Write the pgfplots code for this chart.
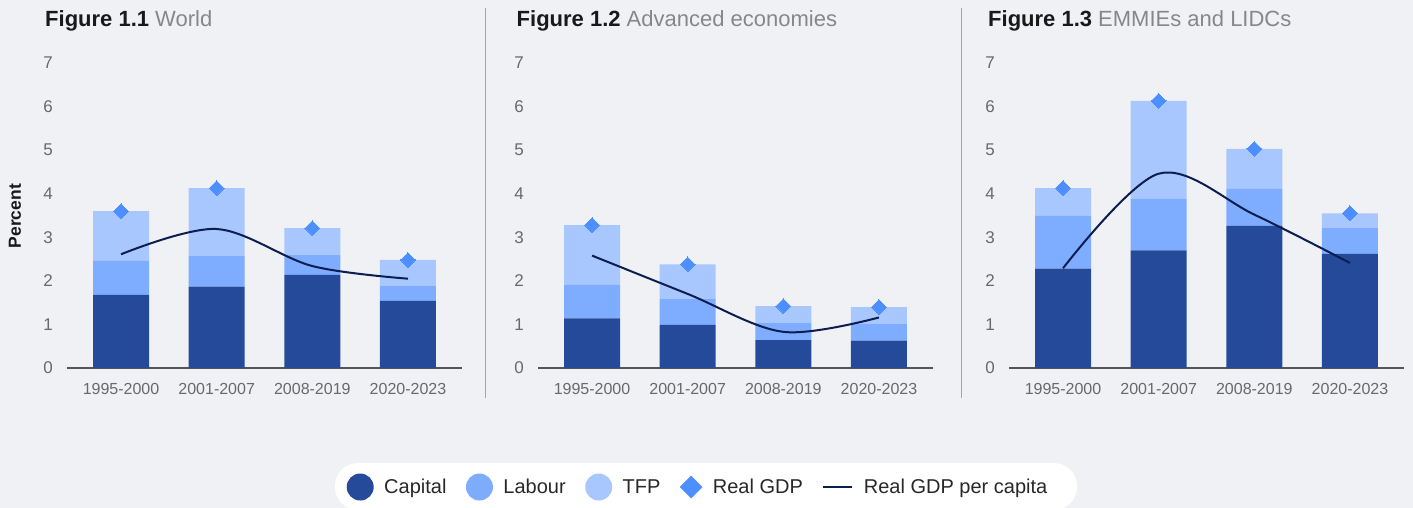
\documentclass[border=0pt]{standalone}
\usepackage{fontspec}
\setmainfont{Liberation Sans}
\usepackage{pgfplots}
\usepackage{pgfplotstable}
\pgfplotsset{compat=1.18}
\definecolor{bgcol}{RGB}{240,241,245}
\definecolor{capcol}{RGB}{37,74,153}
\definecolor{labcol}{RGB}{126,172,255}
\definecolor{tfpcol}{RGB}{168,199,255}
\definecolor{diacol}{RGB}{77,143,255}
\definecolor{pccol}{RGB}{12,30,80}
\definecolor{tickcol}{RGB}{105,105,105}
\definecolor{axcol}{RGB}{85,85,85}
\definecolor{titlegray}{RGB}{135,135,135}
\definecolor{titleblack}{RGB}{25,25,25}
\definecolor{divcol}{RGB}{165,165,165}
\definecolor{legtext}{RGB}{40,40,40}

% columns: x, capital, labour (increment), TFP (increment), real GDP, real GDP per capita
\pgfplotstableread{
x cap lab tfp gdp pc
0 1.68 0.78 1.14 3.60 2.61
1 1.87 0.71 1.55 4.13 3.19
2 2.14 0.45 0.62 3.21 2.34
3 1.54 0.35 0.59 2.48 2.05
}\worldtab
\pgfplotstableread{
x cap lab tfp gdp pc
0 1.14 0.77 1.37 3.28 2.58
1 0.99 0.60 0.79 2.38 1.70
2 0.64 0.40 0.38 1.42 0.83
3 0.63 0.39 0.38 1.40 1.16
}\advtab
\pgfplotstableread{
x cap lab tfp gdp pc
0 2.28 1.21 0.64 4.13 2.29
1 2.70 1.18 2.25 6.13 4.46
2 3.26 0.85 0.92 5.03 3.52
3 2.62 0.60 0.33 3.55 2.41
}\emtab

\pgfplotsset{
  base/.style={
    scale only axis, width=395bp, height=305bp,
    xmin=-0.565, xmax=3.565, ymin=0, ymax=7,
  },
  barpanel/.style={
    base,
    ybar stacked, bar width=56bp,
    axis x line=bottom, axis y line=left,
    x axis line style={-, draw=axcol, line width=1.2bp},
    y axis line style={draw=none},
    major tick length=0pt,
    xtick={0,1,2,3}, xticklabels={1995-2000,2001-2007,2008-2019,2020-2023},
    ytick={0,1,...,7},
    /pgf/number format/assume math mode=true,
    yticklabel style={font=\fontsize{17bp}{20bp}\selectfont, text=tickcol, anchor=east, inner sep=0pt, xshift=-14bp},
    xticklabel style={font=\fontsize{16bp}{19bp}\selectfont, text=tickcol, anchor=north, inner sep=0pt, yshift=-15bp},
  },
  overpanel/.style={base, hide axis, clip=false},
  pcline/.style={pccol, line width=2bp, smooth, tension=0.55},
  gdpmark/.style={only marks, color=diacol, mark=square*, mark size=5.2bp, mark options={rotate=45, fill=diacol, draw=diacol, line width=0pt}},
}

\begin{document}
\begin{tikzpicture}
\path[use as bounding box] (0,0) rectangle (1413bp,-508bp);
\fill[bgcol] (0,0) rectangle (1413bp,-508bp);
\fill[white, rounded corners=23bp] (335bp,-463bp) rectangle (1077bp,-510bp);
\draw[divcol, line width=1bp] (485.5bp,-8bp) -- (485.5bp,-398bp);
\draw[divcol, line width=1bp] (961.5bp,-8bp) -- (961.5bp,-398bp);

\node[anchor=base west, inner sep=0pt, font=\fontsize{22bp}{26bp}\selectfont] at (45bp,-26bp) {\textcolor{titleblack}{\textbf{Figure 1.1}} \textcolor{titlegray}{World}};
\node[anchor=base west, inner sep=0pt, font=\fontsize{22bp}{26bp}\selectfont] at (516.5bp,-26bp) {\textcolor{titleblack}{\textbf{Figure 1.2}} \textcolor{titlegray}{Advanced economies}};
\node[anchor=base west, inner sep=0pt, font=\fontsize{22bp}{26bp}\selectfont] at (988bp,-26bp) {\textcolor{titleblack}{\textbf{Figure 1.3}} \textcolor{titlegray}{EMMIEs and LIDCs}};

% Panel 1
\begin{axis}[barpanel, at={(67bp,-368bp)}, anchor=south west,
  ylabel={Percent},
  every axis y label/.style={at={(axis description cs:-0.1316,0.498)}, rotate=90, anchor=center, font=\fontsize{17.5bp}{20bp}\selectfont\bfseries, text=titleblack}]
\addplot[fill=capcol, draw=none] table[x=x,y=cap]{\worldtab};
\addplot[fill=labcol, draw=none] table[x=x,y=lab]{\worldtab};
\addplot[fill=tfpcol, draw=none] table[x=x,y=tfp]{\worldtab};
\end{axis}
\begin{axis}[overpanel, at={(67bp,-368bp)}, anchor=south west]
\addplot[pcline] table[x=x,y=pc]{\worldtab};
\addplot[gdpmark] table[x=x,y=gdp]{\worldtab};
\end{axis}

% Panel 2
\begin{axis}[barpanel, at={(538bp,-368bp)}, anchor=south west,
  legend columns=5,
  legend style={at={(axis description cs:-0.4848,-0.3902)}, anchor=west, draw=none, fill=none, inner sep=0pt,
    font=\fontsize{20bp}{24bp}\selectfont, text=legtext, nodes={inner sep=0pt},
    /tikz/every odd column/.style={column sep=10.5bp},
    /tikz/every even column/.style={column sep=19.5bp},
    /tikz/column 7/.style={column sep=14bp},
    /tikz/column 9/.style={column sep=9bp}}]
\addplot[fill=capcol, draw=none, legend image code/.code={\fill[capcol] (13.5bp,0) circle (13.5bp);}] table[x=x,y=cap]{\advtab};
\addlegendentry{Capital}
\addplot[fill=labcol, draw=none, legend image code/.code={\fill[labcol] (13.5bp,0) circle (13.5bp);}] table[x=x,y=lab]{\advtab};
\addlegendentry{Labour}
\addplot[fill=tfpcol, draw=none, legend image code/.code={\fill[tfpcol] (13.5bp,0) circle (13.5bp);}] table[x=x,y=tfp]{\advtab};
\addlegendentry{TFP}
\addlegendimage{legend image code/.code={\fill[diacol] (0,0) -- (11bp,11bp) -- (22bp,0) -- (11bp,-11bp) -- cycle;}}
\addlegendentry{Real GDP}
\addlegendimage{legend image code/.code={\draw[pccol, line width=2bp] (0,0) -- (29bp,0);}}
\addlegendentry{Real GDP per capita}
\end{axis}
\begin{axis}[overpanel, at={(538bp,-368bp)}, anchor=south west]
\addplot[pcline] table[x=x,y=pc]{\advtab};
\addplot[gdpmark] table[x=x,y=gdp]{\advtab};
\end{axis}

% Panel 3
\begin{axis}[barpanel, at={(1009bp,-368bp)}, anchor=south west]
\addplot[fill=capcol, draw=none] table[x=x,y=cap]{\emtab};
\addplot[fill=labcol, draw=none] table[x=x,y=lab]{\emtab};
\addplot[fill=tfpcol, draw=none] table[x=x,y=tfp]{\emtab};
\end{axis}
\begin{axis}[overpanel, at={(1009bp,-368bp)}, anchor=south west]
\addplot[pcline] table[x=x,y=pc]{\emtab};
\addplot[gdpmark] table[x=x,y=gdp]{\emtab};
\end{axis}
\end{tikzpicture}
\end{document}
